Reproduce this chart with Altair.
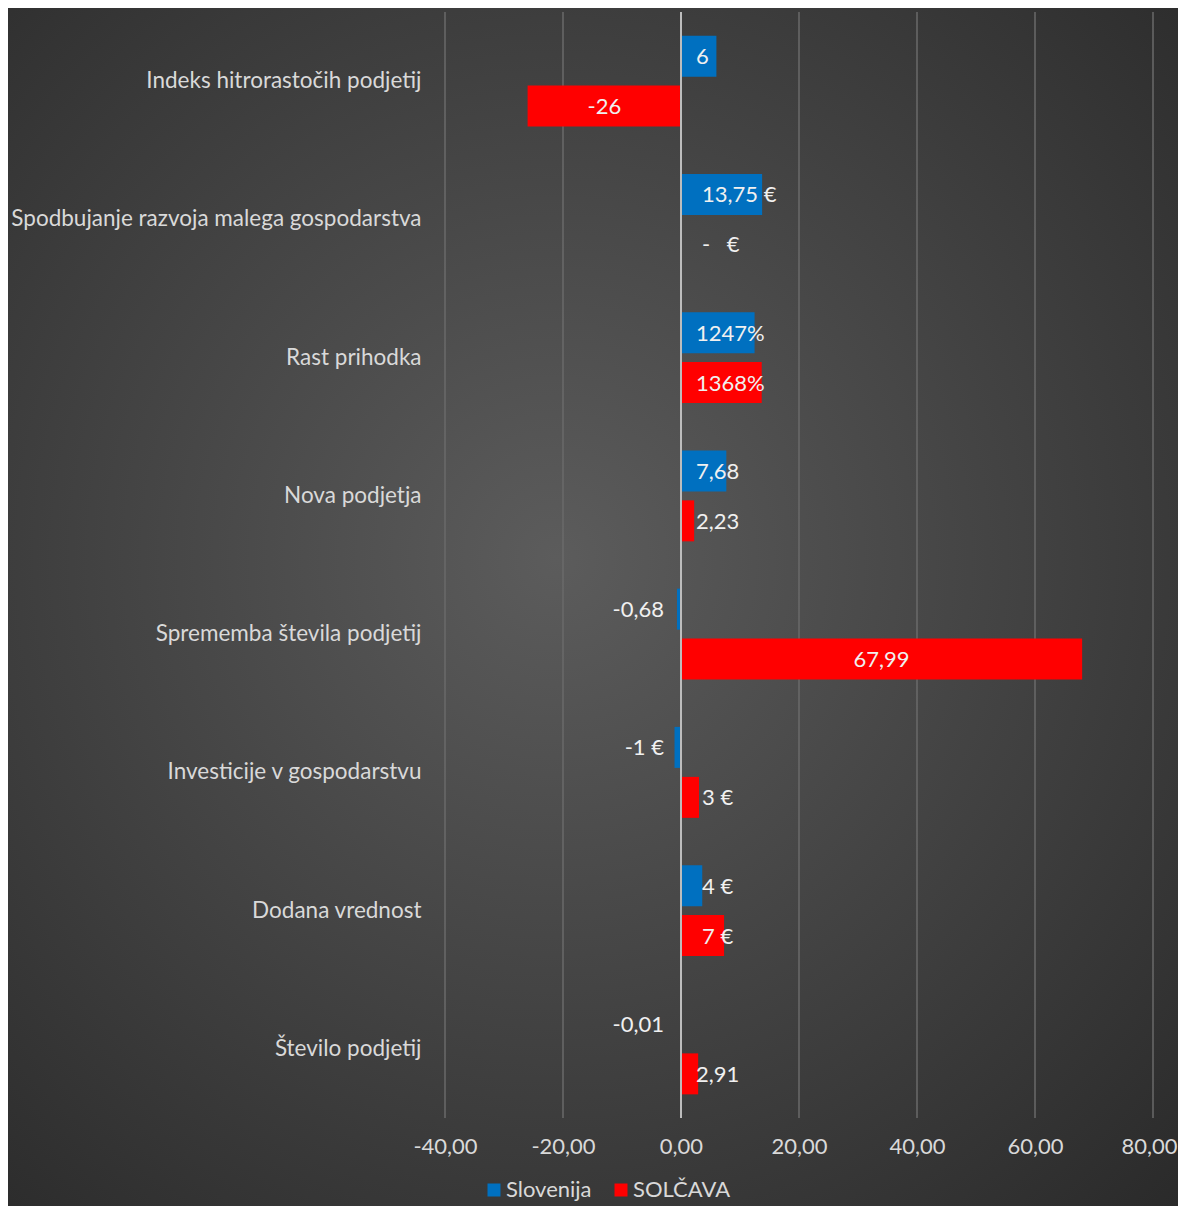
import altair as alt
import pandas as pd

FONT = "Lato"

categories = [
    "Indeks hitrorastočih podjetij",
    "Spodbujanje razvoja malega gospodarstva",
    "Rast prihodka",
    "Nova podjetja",
    "Sprememba števila podjetij",
    "Investicije v gospodarstvu",
    "Dodana vrednost",
    "Število podjetij",
]
series = ["Slovenija", "SOLČAVA"]
slovenija = [6, 13.75, 12.47, 7.68, -0.68, -1.1, 3.6, -0.01]
solcava = [-26, 0, 13.68, 2.23, 67.99, 3.05, 7.3, 2.91]
SP = "\u2005"
slovenija_labels = ["6", "13,75 €", "1247%", "7,68", "-0,68", "-1 €", "4 €", "-0,01"]
solcava_labels = ["-26", "-" + SP + SP + SP + "€", "1368%", "2,23", "67,99", "3 €", "7 €", "2,91"]
x_ticks = [-40, -20, 0, 20, 40, 60, 80]
grid_values = [-40, -20, 20, 40, 60, 80]
colors = ["#0070C0", "#FF0000"]

rows = []
for i, c in enumerate(categories):
    rows.append(dict(category=c, series=series[0], value=slovenija[i], label=slovenija_labels[i]))
    rows.append(dict(category=c, series=series[1], value=solcava[i], label=solcava_labels[i]))
df = pd.DataFrame(rows)

W, H = 708, 1106
PAD_L, PAD_T, PAD_R, PAD_B = 437, 4, 25, 88

label_color = "#d9d9d9"

y_enc = alt.Y(
    "category:N",
    sort=categories,
    title=None,
    scale=alt.Scale(paddingInner=0.342, paddingOuter=0.171),
    axis=alt.Axis(ticks=False, domain=False, labelPadding=24, labelFontSize=22.5,
                  labelColor=label_color, labelFont=FONT, labelLimit=600, zindex=1),
)
yoff = alt.YOffset("series:N", sort=series, scale=alt.Scale(paddingInner=0.18, paddingOuter=0))
x_scale = alt.Scale(domain=[-40, 80], nice=False, zero=False)
x_axis = alt.Axis(values=x_ticks, grid=False, ticks=False, domain=False, labelPadding=18,
                  labelFontSize=22, labelColor=label_color, labelFont=FONT, zindex=1,
                  labelFlush=False, labelOverlap=False,
                  labelOffset={"condition": {"test": "datum.value == 80", "value": -4}, "value": 0},
                  labelExpr="replace(replace(format(datum.value, '.2f'), '.', ','), '\u2212', '-')")

bg = alt.Chart(pd.DataFrame({"bg": [0]})).mark_rect(
    fill=alt.Gradient(
        gradient="radial",
        stops=[alt.GradientStop(color="#5c5c5c", offset=0),
               alt.GradientStop(color="#2a2a2a", offset=1)],
        x1=0.47, y1=0.46, r1=0, x2=0.47, y2=0.46, r2=0.74,
    )
).encode(
    x=alt.value(-PAD_L - 8), x2=alt.value(W + PAD_R + 8),
    y=alt.value(-PAD_T - 8), y2=alt.value(H + PAD_B + 8),
)

grid = alt.Chart(pd.DataFrame({"t": grid_values})).mark_rule(
    color="#6a6a6a", strokeWidth=1.5
).encode(x=alt.X("t:Q", scale=x_scale, axis=x_axis, title=None))

bars = alt.Chart(df).mark_bar().encode(
    y=y_enc,
    yOffset=yoff,
    x=alt.X("value:Q", scale=x_scale, axis=x_axis, title=None),
    color=alt.Color(
        "series:N",
        sort=series,
        scale=alt.Scale(domain=series, range=colors),
        legend=alt.Legend(
            title=None, orient="none", legendX=38, legendY=1167, direction="horizontal",
            symbolType="square", symbolSize=169, symbolStrokeWidth=0, symbolOpacity=1,
            labelFontSize=22, labelColor=label_color, labelFont=FONT, labelOffset=1,
            columnPadding=18, padding=0, zindex=1,
        ),
    ),
)

zero = alt.Chart(pd.DataFrame({"z": [0]})).mark_rule(color="#bdbdbd", strokeWidth=2).encode(
    x=alt.X("z:Q", scale=x_scale, axis=x_axis, title=None)
)

text_props = dict(fontSize=22, font=FONT, color="#f0f0f0", baseline="middle", dy=1)
text_base = alt.Chart(df).encode(y=y_enc, yOffset=yoff, text="label:N")

center_txt = text_base.transform_filter("abs(datum.value) >= 20").transform_calculate(
    mid="datum.value / 2"
).mark_text(align="center", **text_props).encode(
    x=alt.X("mid:Q", scale=x_scale, axis=x_axis, title=None)
)
pos_txt = text_base.transform_filter(
    "datum.value >= 0 && datum.value < 20 && indexof(datum.label, '€') < 0"
).transform_calculate(z="0").mark_text(align="left", dx=15, **text_props).encode(
    x=alt.X("z:Q", scale=x_scale, axis=x_axis, title=None)
)
pos_eur_txt = text_base.transform_filter(
    "datum.value >= 0 && datum.value < 20 && indexof(datum.label, '€') >= 0"
).transform_calculate(z="0").mark_text(align="left", dx=21, **text_props).encode(
    x=alt.X("z:Q", scale=x_scale, axis=x_axis, title=None)
)
neg_txt = text_base.transform_filter("datum.value < 0 && datum.value > -20").transform_calculate(
    z="0"
).mark_text(align="right", dx=-17, **text_props).encode(
    x=alt.X("z:Q", scale=x_scale, axis=x_axis, title=None)
)

chart = alt.layer(bg, grid, bars, zero, center_txt, pos_txt, pos_eur_txt, neg_txt).properties(
    width=W,
    height=H,
    autosize=alt.AutoSizeParams(type="none"),
    padding={"left": PAD_L, "top": PAD_T, "right": PAD_R, "bottom": PAD_B},
).configure(background="#333333").configure_view(stroke="transparent")

chart.save("out.html", embed_options={"renderer": "svg", "actions": False})
